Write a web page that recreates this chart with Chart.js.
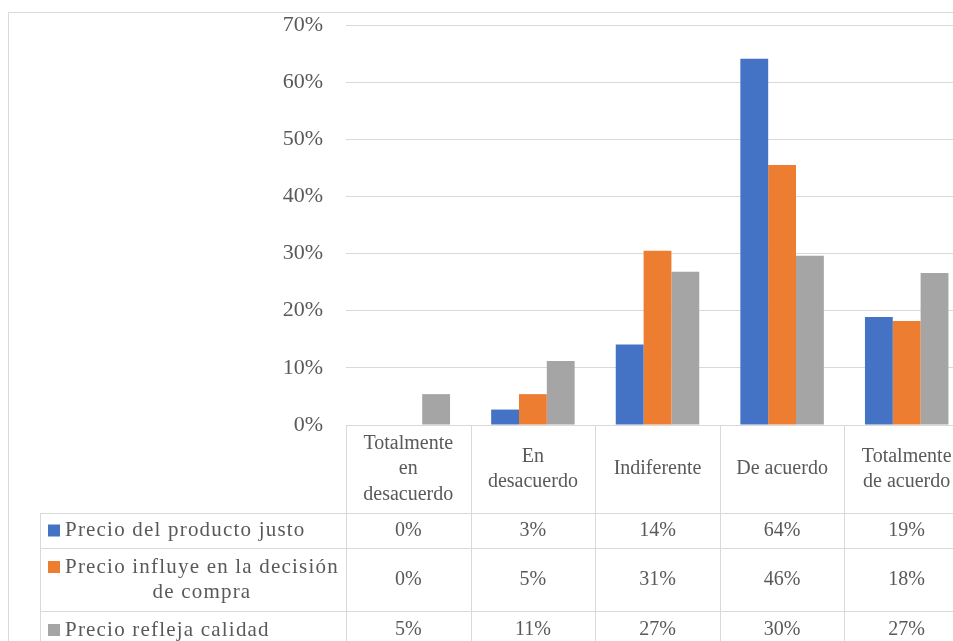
<!DOCTYPE html>
<html>
<head>
<meta charset="utf-8">
<script src="https://cdn.jsdelivr.net/npm/chart.js@4/dist/chart.umd.min.js"></script>
<style>
  html, body { margin: 0; padding: 0; overflow: hidden; background: #fff; }
  #marco {
    position: absolute; left: 8px; top: 12px;
    width: 980px; height: 660px;
    border: 1px solid #d9d9d9;
  }
  canvas { display: block; }
</style>
</head>
<body>
<div id="marco"><canvas id="grafico" width="980" height="660"></canvas></div>
<script>
// categorias (con saltos de linea como en la tabla)
const categorias = [
  ["Totalmente", "en", "desacuerdo"],
  ["En", "desacuerdo"],
  "Indiferente",
  "De acuerdo",
  ["Totalmente", "de acuerdo"]
];

const nombresSeries = [
  "Precio del producto justo",
  ["Precio influye en la decisión", "de compra"],
  "Precio refleja calidad"
];

const precioJusto     = [0, 0.027, 0.141, 0.641, 0.189];
const precioInfluye   = [0, 0.054, 0.305, 0.455, 0.182];
const precioCalidad   = [0.054, 0.112, 0.268, 0.296, 0.266];

const colores = ["#4472C4", "#ED7D31", "#A5A5A5"];

const ticksY = [0, 0.1, 0.2, 0.3, 0.4, 0.5, 0.6, 0.7];

const FUENTE = "'Liberation Serif', 'Times New Roman', serif";
const GRIS_TEXTO = "#595959";
const GRIS_LINEA = "#d9d9d9";

Chart.defaults.font.family = FUENTE;
Chart.defaults.font.size = 20;
Chart.defaults.color = GRIS_TEXTO;

function pct(v){
  return Math.round(v * 100) + "%";
}

///////////////////////////////////////////////////////////////

// tabla de datos debajo del grafico, como en Excel
const tablaDatos = {
  id: "tablaDatos",
  afterDraw(chart){
    const ctx = chart.ctx;
    const area = chart.chartArea;
    const n = categorias.length;
    const anchoCat = (area.right - area.left) / n;
    const xLeyenda = 31;
    const filas = [area.bottom, 500, 535, 598, 636];
    const finX = chart.width;

    ctx.save();
    ctx.strokeStyle = GRIS_LINEA;
    ctx.lineWidth = 1;

    // lineas verticales de las categorias
    for(let i = 0; i <= n; i++){
      const x = Math.round(area.left + i * anchoCat) + 0.5;
      ctx.beginPath();
      ctx.moveTo(x, area.bottom);
      ctx.lineTo(x, chart.height);
      ctx.stroke();
    }

    // borde izquierdo de la columna de leyenda
    ctx.beginPath();
    ctx.moveTo(xLeyenda + 0.5, filas[1]);
    ctx.lineTo(xLeyenda + 0.5, chart.height);
    ctx.stroke();

    // lineas horizontales
    for(let r = 1; r < filas.length; r++){
      const y = filas[r] + 0.5;
      ctx.beginPath();
      ctx.moveTo(xLeyenda, y);
      ctx.lineTo(finX, y);
      ctx.stroke();
    }

    ctx.font = "20px " + FUENTE;
    ctx.fillStyle = GRIS_TEXTO;
    ctx.textAlign = "center";
    ctx.textBaseline = "middle";

    // encabezados
    const altoLinea = 25.5;
    const cyEnc = (filas[0] + filas[1]) / 2;
    categorias.forEach((cat, i) => {
      const lineas = Array.isArray(cat) ? cat : [cat];
      const cx = area.left + (i + 0.5) * anchoCat;
      const y0 = cyEnc - (lineas.length - 1) * altoLinea / 2;
      lineas.forEach((l, k) => ctx.fillText(l, cx, y0 + k * altoLinea));
    });

    // filas de valores y leyenda
    const series = chart.data.datasets;
    series.forEach((ds, s) => {
      const cy = (filas[s + 1] + filas[s + 2]) / 2;

      ctx.font = "20px " + FUENTE;
      ctx.letterSpacing = "0px";
      ctx.textAlign = "center";
      ds.data.forEach((v, i) => {
        const cx = area.left + (i + 0.5) * anchoCat;
        ctx.fillText(pct(v), cx, cy);
      });

      const lineas = Array.isArray(nombresSeries[s]) ? nombresSeries[s] : [nombresSeries[s]];
      const y0 = cy - (lineas.length - 1) * 12.5;
      const xTexto = 56;

      ctx.font = "21px " + FUENTE;
      ctx.letterSpacing = "1.2px";
      const anchoPrimera = ctx.measureText(lineas[0]).width;

      ctx.fillStyle = colores[s];
      ctx.fillRect(39, y0 - 6, 12, 12);
      ctx.fillStyle = GRIS_TEXTO;

      ctx.textAlign = "left";
      ctx.fillText(lineas[0], xTexto, y0);
      ctx.textAlign = "center";
      for(let k = 1; k < lineas.length; k++){
        ctx.fillText(lineas[k], xTexto + anchoPrimera / 2, y0 + k * 25);
      }
    });

    ctx.restore();
  }
};

///////////////////////////////////////////////////////////////

const ctx = document.getElementById("grafico").getContext("2d");

new Chart(ctx, {
  type: "bar",
  data: {
    labels: categorias,
    datasets: [
      { label: nombresSeries[0], data: precioJusto, backgroundColor: colores[0] },
      { label: nombresSeries[1].join(" "), data: precioInfluye, backgroundColor: colores[1] },
      { label: nombresSeries[2], data: precioCalidad, backgroundColor: colores[2] }
    ]
  },
  options: {
    responsive: false,
    animation: false,
    layout: {
      padding: { top: 12, right: 20, bottom: 248, left: 0 }
    },
    datasets: {
      bar: {
        categoryPercentage: 0.67,
        barPercentage: 1.0,
        borderWidth: 0
      }
    },
    plugins: {
      legend: { display: false },
      title: { display: false },
      tooltip: { enabled: false }
    },
    scales: {
      x: {
        display: false
      },
      y: {
        min: 0,
        max: 0.7,
        afterFit(scale){
          scale.width = 337;
          scale.paddingTop = 0;
          scale.paddingBottom = 0;
        },
        afterBuildTicks(scale){
          scale.ticks = ticksY.map(v => ({ value: v }));
        },
        ticks: {
          padding: 23,
          color: GRIS_TEXTO,
          font: { size: 22 },
          callback: v => pct(v)
        },
        grid: {
          color: GRIS_LINEA,
          lineWidth: 1,
          drawTicks: false
        },
        border: { display: false }
      }
    }
  },
  plugins: [tablaDatos]
});
</script>
</body>
</html>
